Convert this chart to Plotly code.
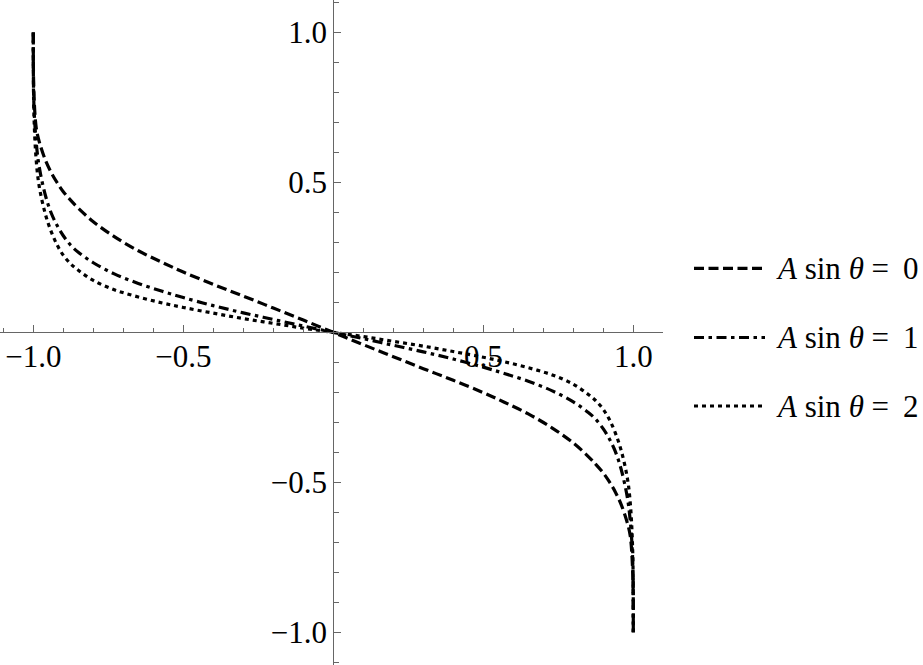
import plotly.graph_objects as go

# ---------------- data ----------------
x_vals = [-1.0, -0.998, -0.99, -0.98, -0.96, -0.94, -0.92, -0.9, -0.875, -0.85,
          -0.8, -0.73, -0.65, -0.57, -0.5, -0.4, -0.3, -0.2, -0.1, 0.0,
          0.1, 0.2, 0.3, 0.4, 0.5, 0.57, 0.65, 0.73, 0.8, 0.85, 0.875, 0.9,
          0.92, 0.94, 0.96, 0.98, 0.99, 0.998, 1.0]

y_A0 = [1.0, 0.80, 0.68, 0.635, 0.575, 0.532, 0.498, 0.469, 0.44, 0.414,
        0.369, 0.319, 0.272, 0.233, 0.201, 0.160, 0.121, 0.081, 0.041, 0.0,
        -0.041, -0.081, -0.121, -0.160, -0.201, -0.233, -0.272, -0.319, -0.369,
        -0.414, -0.44, -0.469, -0.498, -0.532, -0.575, -0.635, -0.68, -0.80, -1.0]

y_A1 = [1.0, 0.76, 0.63, 0.55, 0.458, 0.397, 0.355, 0.322, 0.29, 0.267,
        0.232, 0.195, 0.163, 0.137, 0.116, 0.089, 0.065, 0.043, 0.021, 0.0,
        -0.021, -0.043, -0.065, -0.089, -0.116, -0.137, -0.163, -0.195, -0.232,
        -0.267, -0.29, -0.322, -0.355, -0.397, -0.458, -0.55, -0.63, -0.76, -1.0]

y_A2 = [1.0, 0.73, 0.57, 0.485, 0.395, 0.335, 0.29, 0.257, 0.228, 0.207,
        0.173, 0.142, 0.118, 0.098, 0.083, 0.064, 0.046, 0.030, 0.014, 0.0,
        -0.014, -0.030, -0.046, -0.064, -0.083, -0.098, -0.118, -0.142, -0.173,
        -0.207, -0.228, -0.257, -0.29, -0.335, -0.395, -0.485, -0.57, -0.73, -1.0]

series_names = ["A sin θ = 0", "A sin θ = 1", "A sin θ = 2"]
legend_labels = ["<i>A</i> sin <i>θ</i> =\u2009 0",
                 "<i>A</i> sin <i>θ</i> =\u2009 1",
                 "<i>A</i> sin <i>θ</i> =\u2009 2"]

x_tick_vals = [-1.0, -0.5, 0.5, 1.0]
x_tick_text = ["\u22121.0", "\u22120.5", "0.5", "1.0"]
y_tick_vals = [-1.0, -0.5, 0.5, 1.0]
y_tick_text = ["\u22121.0", "\u22120.5", "0.5", "1.0"]
minor_tick_vals = [-1.1, -0.9, -0.8, -0.7, -0.6, -0.4, -0.3, -0.2, -0.1,
                   0.1, 0.2, 0.3, 0.4, 0.6, 0.7, 0.8, 0.9, 1.1]

# ---------------- styling ----------------
W, H = 923, 665
M_L, M_R, M_T, M_B = 0, 260, 0, 0
XMIN, XMAX = -1.111, 1.099
YMIN, YMAX = -1.109, 1.108
AXIS_COLOR = "#666666"
FONT = "Liberation Serif, Times New Roman, serif"
dashes = ["10px,4.5px", "10px,4.5px,3.5px,4.5px", "4px,4px"]

fig = go.Figure()
for ys, name, dash in zip([y_A0, y_A1, y_A2], series_names, dashes):
    fig.add_trace(go.Scatter(x=x_vals, y=ys, mode="lines", name=name,
                             line=dict(color="black", width=3.2, dash=dash),
                             line_shape="spline", showlegend=False))

x_pos = (0 - XMIN) / (XMAX - XMIN)
y_pos = (0 - YMIN) / (YMAX - YMIN)

common = dict(showgrid=False, zeroline=False, showline=True,
              linecolor=AXIS_COLOR, linewidth=1.3,
              ticks="inside", ticklen=7, tickwidth=1.2, tickcolor=AXIS_COLOR,
              tickfont=dict(family=FONT, size=31, color="black"),
              anchor="free",
              minor=dict(tickvals=minor_tick_vals, ticks="inside", ticklen=4.5,
                         tickwidth=1, tickcolor=AXIS_COLOR))

fig.update_xaxes(range=[XMIN, XMAX], tickmode="array", tickvals=x_tick_vals,
                 ticktext=x_tick_text, position=y_pos, ticklabelstandoff=-4,
                 **common)
fig.update_yaxes(range=[YMIN, YMAX], tickmode="array", tickvals=y_tick_vals,
                 ticktext=y_tick_text, position=x_pos, **common)

# custom legend (line samples + labels) to the right of the plot
plot_w = W - M_L - M_R
leg_x0 = 694 / plot_w
leg_x1 = 765 / plot_w
leg_tx = 774 / plot_w
leg_rows = [(H - 268.3) / H, (H - 337.5) / H, (H - 406) / H]
for label, dash, yy in zip(legend_labels, dashes, leg_rows):
    fig.add_shape(type="line", xref="paper", yref="paper",
                  x0=leg_x0, x1=leg_x1, y0=yy, y1=yy,
                  line=dict(color="black", width=3.2, dash=dash))
    fig.add_annotation(xref="paper", yref="paper", x=leg_tx, y=yy,
                       xanchor="left", yanchor="middle", showarrow=False,
                       text=label, font=dict(family=FONT, size=31, color="black"))

fig.update_layout(width=W, height=H,
                  margin=dict(l=M_L, r=M_R, t=M_T, b=M_B, pad=0),
                  plot_bgcolor="white", paper_bgcolor="white",
                  showlegend=False)

fig.write_html("out.html",
               config={"displayModeBar": False},
               post_script="document.body.style.margin='0px';")
